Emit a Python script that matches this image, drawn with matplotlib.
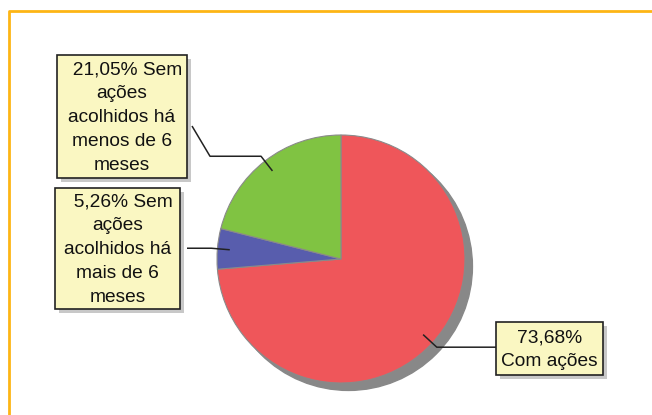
import numpy as np
import matplotlib.pyplot as plt
from matplotlib.patches import Circle, Rectangle

plt.rcParams['font.family'] = ['Liberation Sans', 'DejaVu Sans']

# Data (order clockwise from 12 o'clock)
shares = [73.68, 5.26, 21.05]
label_tpl = ["{}%\nCom ações",
             "  {}% Sem\nações\nacolhidos há\nmais de 6\nmeses",
             "  {}% Sem\nações\nacolhidos há\nmenos de 6\nmeses"]
colors = ["#EF565A", "#585DAD", "#80C342"]

# label boxes in pixels (left, top, right, bottom)
boxes = [(496, 322, 603, 375), (55, 188, 180, 309), (57, 55, 187, 178)]
# where the connector leaves the box side (x, y), plus extra bend
line_ends = [[(496, 348)], [(187, 250)], [(210, 157), (192, 126)]]

W, H = 652, 415
CX, CY, R = 341, 259, 124


def px(x, y):
    return (x - CX) / R, (CY - y) / R


fig = plt.figure(figsize=(W / 100, H / 100), dpi=100)
ax = fig.add_axes([0, 0, 1, 1])

# shadow
ax.add_patch(Circle((0.06, -0.06), 1, color="#888888", zorder=0))
wedges, _ = ax.pie(shares, colors=colors, startangle=90, counterclock=False,
                   radius=1, wedgeprops=dict(edgecolor="#8a8a8a", linewidth=0.8))
for w in wedges:
    w.set_zorder(1)

for i, w in enumerate(wedges):
    ang = np.deg2rad((w.theta1 + w.theta2) / 2)
    a = (0.9 * np.cos(ang), 0.9 * np.sin(ang))
    e = (1.05 * np.cos(ang), 1.05 * np.sin(ang))
    ends = [px(*p) for p in line_ends[i]]
    xs = [a[0], e[0], ends[0][0]] + [p[0] for p in ends[1:]]
    ys = [a[1], e[1], e[1]] + [p[1] for p in ends[1:]]
    ax.plot(xs, ys, color="#222222", lw=1.1, zorder=3, solid_capstyle="butt")

    l, t, r, b = boxes[i]
    x0, y0 = px(l, b)
    x1, y1 = px(r, t)
    sh = 4 / R
    ax.add_patch(Rectangle((x0 + sh, y0 - sh), x1 - x0, y1 - y0,
                           facecolor="#c8c8c8", edgecolor="none", zorder=4))
    ax.add_patch(Rectangle((x0, y0), x1 - x0, y1 - y0, facecolor="#FAF7C2",
                           edgecolor="#222222", lw=1.2, zorder=5))
    txt = label_tpl[i].format(f"{shares[i]:.2f}".replace(".", ","))
    ax.text((x0 + x1) / 2, (y0 + y1) / 2 - 1 / R, txt, ha="center", va="center",
            multialignment="center", fontsize=13.8, linespacing=1.52,
            color="#111111", zorder=6)

# orange frame
bx, by = zip(*[px(9, H), px(9, 11), px(W, 11)])
ax.plot(bx, by, color="#FDB515", lw=2, zorder=7, solid_capstyle="butt")

ax.set_xlim(px(0, 0)[0], px(W, 0)[0])
ax.set_ylim(px(0, H)[1], px(0, 0)[1])
ax.set_aspect("auto")
ax.axis("off")

fig.savefig("out.png", dpi=100, facecolor="white")
